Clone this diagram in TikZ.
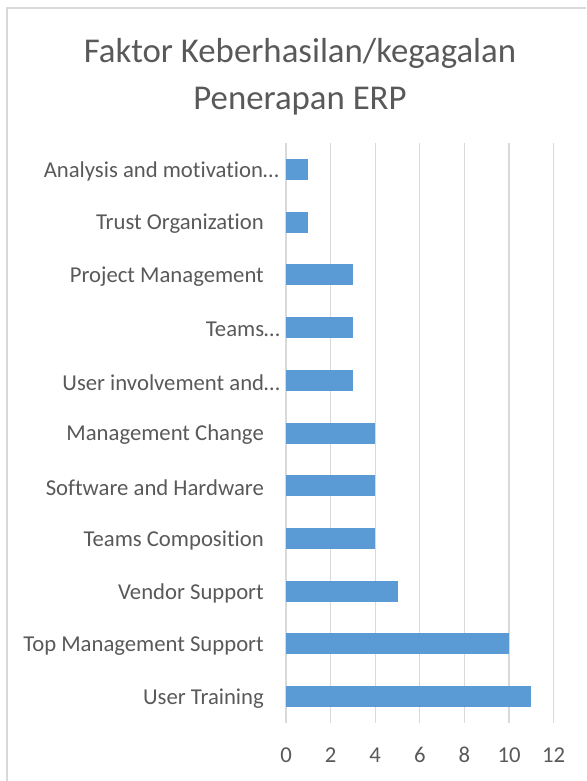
\documentclass[tikz,border=0pt]{standalone}
\usepackage{fontspec}
\setmainfont[Ligatures=NoCommon]{Carlito}
\definecolor{barblue}{HTML}{5B9BD5}
\definecolor{txtgray}{HTML}{595959}
\definecolor{gridgray}{HTML}{D9D9D9}

\begin{document}
\begin{tikzpicture}[x=1pt, y=-1pt,
  lbl/.style = {anchor=east, inner sep=0pt, text=txtgray, font=\fontsize{22.7}{27}\selectfont},
  tick/.style = {anchor=base, inner sep=0pt, text=txtgray, font=\fontsize{22.7}{27}\selectfont},
  bar/.style = {fill=barblue},
  grid/.style = {draw=gridgray, line width=1.3pt}]
\useasboundingbox (0,0) rectangle (586,781);
\draw[grid] (7,781) -- (7,8) -- (586,8);
\node[text=txtgray, align=center, font=\fontsize{34.8}{47}\selectfont] (title) at (300,77) {Faktor Keberhasilan/kegagalan\\Penerapan ERP};
%gridlines and axis labels
\foreach \v in {0,2,...,12} {
  \draw[grid] ({286+22.3*\v},143) -- ({286+22.3*\v},723);
  \node[tick] (t\v) at ({286+22.3*\v},762) {\v};
}
%categories: label/right end of label/value
\foreach \name/\xe/\val [count=\i] in {Analysis and motivation…/279/1, Trust Organization/264/1,
    Project Management/264/3, Teams…/280/3, User involvement and…/280/3,
    Management Change/264/4, Software and Hardware/264/4, Teams Composition/264/4,
    Vendor Support/264/5, Top Management Support/264/10, User Training/264/11} {
  \node[lbl] (c\i) at (\xe,{143+52.73*(\i-0.5)+2}) {\name};
  \fill[bar] (286,{143+52.73*(\i-0.5)-10.5}) rectangle ({286+22.3*\val},{143+52.73*(\i-0.5)+10.5});
}
\end{tikzpicture}
\end{document}
